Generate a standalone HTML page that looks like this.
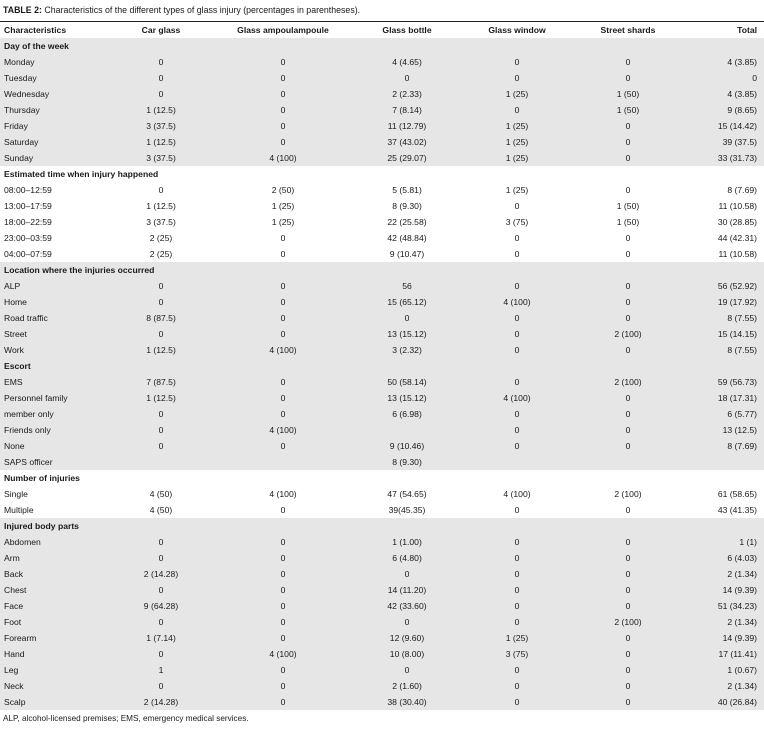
<!DOCTYPE html>
<html><head><meta charset="utf-8">
<style>
body{margin:0;width:764px;height:731px;background:#fff;font-family:"Liberation Sans",sans-serif;color:#1a1a1a;position:relative;overflow:hidden}
.t{position:absolute;font-size:8.6px;line-height:16px;white-space:nowrap}
.bg{position:absolute;left:0;width:764px;background:#e6e6e6}
.ln{position:absolute;left:0;width:764px;background:#222}
</style></head><body>
<div class="t" style="left:3px;top:2px;font-size:8.8px"><b>TABLE 2:</b> Characteristics of the different types of glass injury (percentages in parentheses).</div>
<div class="ln" style="top:21px;height:1px"></div>
<div class="ln" style="top:38px;height:1px;background:#888"></div>
<div class="ln" style="top:707px;height:1.5px"></div>
<div id="tbl"></div>
<div class="t" style="left:3px;top:711px;font-size:8.2px">ALP, alcohol-licensed premises; EMS, emergency medical services.</div>
<script>
const headers=["Characteristics","Car glass","Glass ampoulampoule","Glass bottle","Glass window","Street shards","Total"];
const sections=[
["Day of the week",1,[
["Monday","0","0","4 (4.65)","0","0","4 (3.85)"],
["Tuesday","0","0","0","0","0","0"],
["Wednesday","0","0","2 (2.33)","1 (25)","1 (50)","4 (3.85)"],
["Thursday","1 (12.5)","0","7 (8.14)","0","1 (50)","9 (8.65)"],
["Friday","3 (37.5)","0","11 (12.79)","1 (25)","0","15 (14.42)"],
["Saturday","1 (12.5)","0","37 (43.02)","1 (25)","0","39 (37.5)"],
["Sunday","3 (37.5)","4 (100)","25 (29.07)","1 (25)","0","33 (31.73)"]]],
["Estimated time when injury happened",0,[
["08:00–12:59","0","2 (50)","5 (5.81)","1 (25)","0","8 (7.69)"],
["13:00–17:59","1 (12.5)","1 (25)","8 (9.30)","0","1 (50)","11 (10.58)"],
["18:00–22:59","3 (37.5)","1 (25)","22 (25.58)","3 (75)","1 (50)","30 (28.85)"],
["23:00–03:59","2 (25)","0","42 (48.84)","0","0","44 (42.31)"],
["04:00–07:59","2 (25)","0","9 (10.47)","0","0","11 (10.58)"]]],
["Location where the injuries occurred",1,[
["ALP","0","0","56","0","0","56 (52.92)"],
["Home","0","0","15 (65.12)","4 (100)","0","19 (17.92)"],
["Road traffic","8 (87.5)","0","0","0","0","8 (7.55)"],
["Street","0","0","13 (15.12)","0","2 (100)","15 (14.15)"],
["Work","1 (12.5)","4 (100)","3 (2.32)","0","0","8 (7.55)"]]],
["Escort",1,[
["EMS","7 (87.5)","0","50 (58.14)","0","2 (100)","59 (56.73)"],
["Personnel family","1 (12.5)","0","13 (15.12)","4 (100)","0","18 (17.31)"],
["member only","0","0","6 (6.98)","0","0","6 (5.77)"],
["Friends only","0","4 (100)","","0","0","13 (12.5)"],
["None","0","0","9 (10.46)","0","0","8 (7.69)"],
["SAPS officer","","","8 (9.30)","","",""]]],
["Number of injuries",0,[
["Single","4 (50)","4 (100)","47 (54.65)","4 (100)","2 (100)","61 (58.65)"],
["Multiple","4 (50)","0","39(45.35)","0","0","43 (41.35)"]]],
["Injured body parts",1,[
["Abdomen","0","0","1 (1.00)","0","0","1 (1)"],
["Arm","0","0","6 (4.80)","0","0","6 (4.03)"],
["Back","2 (14.28)","0","0","0","0","2 (1.34)"],
["Chest","0","0","14 (11.20)","0","0","14 (9.39)"],
["Face","9 (64.28)","0","42 (33.60)","0","0","51 (34.23)"],
["Foot","0","0","0","0","2 (100)","2 (1.34)"],
["Forearm","1 (7.14)","0","12 (9.60)","1 (25)","0","14 (9.39)"],
["Hand","0","4 (100)","10 (8.00)","3 (75)","0","17 (11.41)"],
["Leg","1","0","0","0","0","1 (0.67)"],
["Neck","0","0","2 (1.60)","0","0","2 (1.34)"],
["Scalp","2 (14.28)","0","38 (30.40)","0","0","40 (26.84)"]]]
];
const centers=[null,161,283,407,517,628];
const tbl=document.getElementById('tbl');
function cell(txt,col,top,bold){
  const d=document.createElement('div');
  d.className='t';
  d.textContent=txt;
  d.style.top=top+'px';
  if(bold)d.style.fontWeight='bold';
  if(col===0){d.style.left='4px';}
  else if(col===6){d.style.right='7px';}
  else{d.style.left=(centers[col]-60)+'px';d.style.width='120px';d.style.textAlign='center';}
  
  
  tbl.appendChild(d);
}
const rowH=16;let y=22;
headers.forEach((h,i)=>cell(h,i,y,true));
y+=rowH;
sections.forEach(s=>{
  const n=s[2].length+1;
  if(s[1]){
    const b=document.createElement('div');
    b.className='bg';b.style.top=y+'px';b.style.height=(n*rowH)+'px';
    
    
    tbl.appendChild(b);
  }
  cell(s[0],0,y,true);y+=rowH;
  s[2].forEach(r=>{r.forEach((v,i)=>cell(v,i,y,false));y+=rowH;});
});
</script>
</body></html>
